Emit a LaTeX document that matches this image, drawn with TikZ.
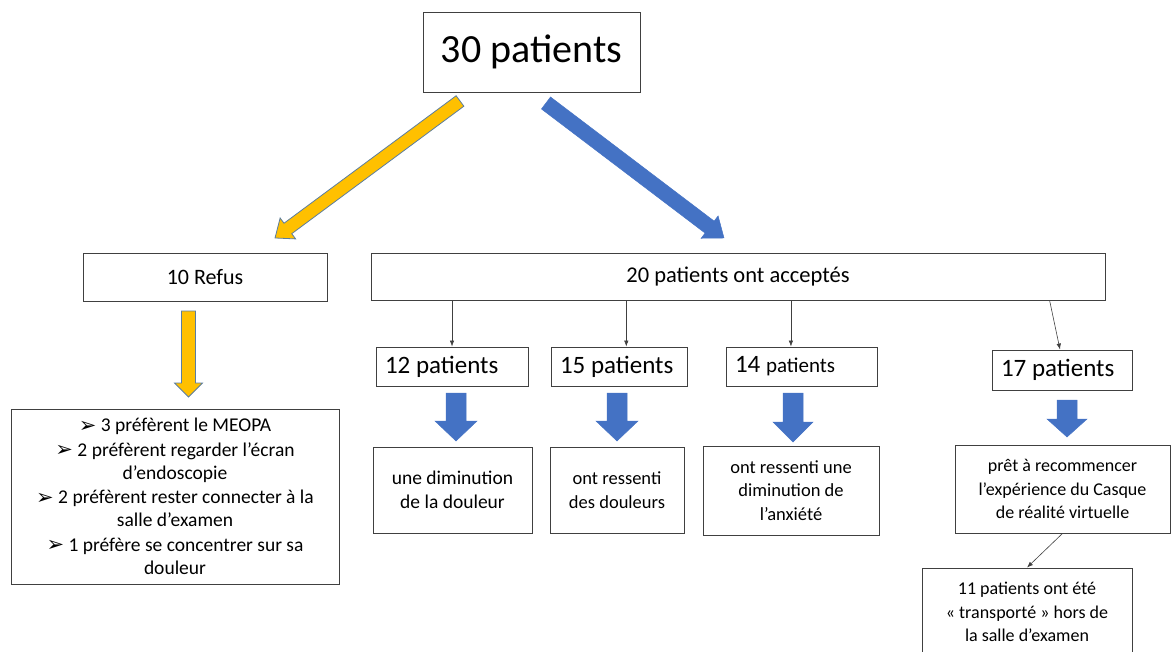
\documentclass[tikz,border=0pt]{standalone}
\usepackage{fontspec}
\setmainfont{Carlito}
\newfontfamily\symfont{DejaVu Sans}
\usetikzlibrary{arrows.meta,calc}
\definecolor{ora}{HTML}{FFC000}
\definecolor{blu}{HTML}{4472C4}
\definecolor{oline}{HTML}{5A7DA0}
\definecolor{bord}{HTML}{404040}
% #1 style, #2 from, #3 to, #4 half shaft, #5 half head, #6 head length
\newcommand\blockarrow[6]{%
  \path[#1] let \p1=(#2), \p2=(#3),
    \n1={veclen(\x2-\x1,\y2-\y1)}, \n2={atan2(\y2-\y1,\x2-\x1)} in
    [shift={(\p1)}, rotate=\n2]
    (0pt,#4) -- ({\n1*1pt-#6},#4) -- ({\n1*1pt-#6},#5) -- ({\n1*1pt},0pt)
    -- ({\n1*1pt-#6},-#5) -- ({\n1*1pt-#6},-#4) -- (0pt,-#4) -- cycle;}
\newcommand\bul{{\symfont\fontsize{21}{21}\selectfont\raisebox{-0.5pt}{➢}}\ }
\newcommand\lbox[2]{\makebox[#1][l]{#2}}
\begin{document}
\begin{tikzpicture}[x=1pt,y=-1pt,
  box/.style={draw=bord, line width=0.9pt, fill=white, inner sep=0pt, align=center},
  midbox/.style={box, minimum height=39pt, font=\fontsize{25}{30}\selectfont},
  resbox/.style={box, font=\fontsize{18.5}{23.5}\selectfont},
  thinarr/.style={draw=bord, line width=0.6pt, -{Latex[length=6pt,width=4.5pt]}},
  oarrow/.style={fill=ora, draw=oline, line width=0.8pt, line join=miter},
  barrow/.style={fill=blu, draw=blu, line width=0.5pt, line join=miter}]
\useasboundingbox (0,0) rectangle (1172,652);
\clip (0,0) rectangle (1172,652);

\node[box, minimum width=217pt, minimum height=80pt, font=\fontsize{40}{48}\selectfont] (top) at (531.5,52) {30 patients};
\node[box, minimum width=244pt, minimum height=48pt, font=\fontsize{22}{26}\selectfont] (refus) at (205,277) {10 Refus};
\node[box, minimum width=734pt, minimum height=47pt, font=\fontsize{22.5}{26}\selectfont] (acc) at (738,276.5) {20 patients ont acceptés};

\node[box, minimum width=328pt, minimum height=175pt, font=\fontsize{19.5}{23}\selectfont] (left) at (175,496.5)
 {\bul 3 préfèrent le MEOPA\\[1.5pt]
  \bul 2 préfèrent regarder l’écran\\
  d’endoscopie\\[1.5pt]
  \bul 2 préfèrent rester connecter à la\\
  salle d’examen\\[1.5pt]
  \bul 1 préfère se concentrer sur sa\\
  douleur};

\node[midbox, minimum width=152pt] (p12) at (452,366.5) {\lbox{134pt}{12 patients}};
\node[midbox, minimum width=136pt] (p15) at (619,366.5) {\lbox{118pt}{15 patients}};
\node[midbox, minimum width=151pt] (p14) at (801.5,366.5) {\lbox{133pt}{14 {\fontsize{21}{25}\selectfont patients}}};
\node[midbox, minimum width=140pt, minimum height=40pt] (p17) at (1062,370) {\lbox{122pt}{17 patients}};

\node[resbox, minimum width=159pt, minimum height=86pt, font=\fontsize{19.5}{23.5}\selectfont] (r12) at (452.5,490) {une diminution\\de la douleur};
\node[resbox, minimum width=134pt, minimum height=86pt] (r15) at (617,490) {ont ressenti\\des douleurs};
\node[resbox, minimum width=176pt, minimum height=89pt] (r14) at (791,490.5) {ont ressenti une\\diminution de\\l’anxiété};
\node[resbox, minimum width=215pt, minimum height=88pt, font=\fontsize{18}{23.5}\selectfont] (r17) at (1062.5,489) {prêt à recommencer\\l’expérience du Casque\\de réalité virtuelle};
\node[resbox, minimum width=210pt, minimum height=88pt, font=\fontsize{18}{23.5}\selectfont] (r11) at (1027,612) {11 patients ont été\\« transporté » hors de\\la salle d’examen};

% thin connectors
\draw[thinarr] (p12.north |- acc.south) -- (p12.north);
\coordinate (s15) at ($(acc.south west)!0.348!(acc.south east)$);
\draw[thinarr] (s15) -- (s15 |- p15.north);
\coordinate (s14) at ($(acc.south west)!0.572!(acc.south east)$);
\draw[thinarr] (s14) -- (s14 |- p14.north);
\coordinate (s17) at ($(acc.south west)!0.924!(acc.south east)$);
\draw[thinarr] (s17) -- ($(p17.north)+(-2,0)$);
\draw[thinarr] (r17.south) -- (r11.north);

% block arrows
\coordinate (oa1) at (460,101); \coordinate (oa2) at (275,238);
\blockarrow{oarrow}{oa1}{oa2}{6.5pt}{13pt}{16pt}
\coordinate (ba1) at (546,103); \coordinate (ba2) at (724,238);
\blockarrow{barrow}{ba1}{ba2}{7.5pt}{14pt}{18pt}
\coordinate (ov1) at (188.5,311); \coordinate (ov2) at (188.5,397);
\blockarrow{oarrow}{ov1}{ov2}{7pt}{14pt}{14pt}
\coordinate (b12a) at (456,393); \coordinate (b12b) at (456,441);
\blockarrow{barrow}{b12a}{b12b}{10pt}{21pt}{20pt}
\coordinate (b15a) at (617,393); \coordinate (b15b) at (617,441);
\blockarrow{barrow}{b15a}{b15b}{10pt}{21pt}{20pt}
\coordinate (b14a) at (793,393); \coordinate (b14b) at (793,442);
\blockarrow{barrow}{b14a}{b14b}{10pt}{20pt}{20pt}
\coordinate (b17a) at (1067,400); \coordinate (b17b) at (1067,437);
\blockarrow{barrow}{b17a}{b17b}{10pt}{20pt}{18pt}
\end{tikzpicture}
\end{document}
